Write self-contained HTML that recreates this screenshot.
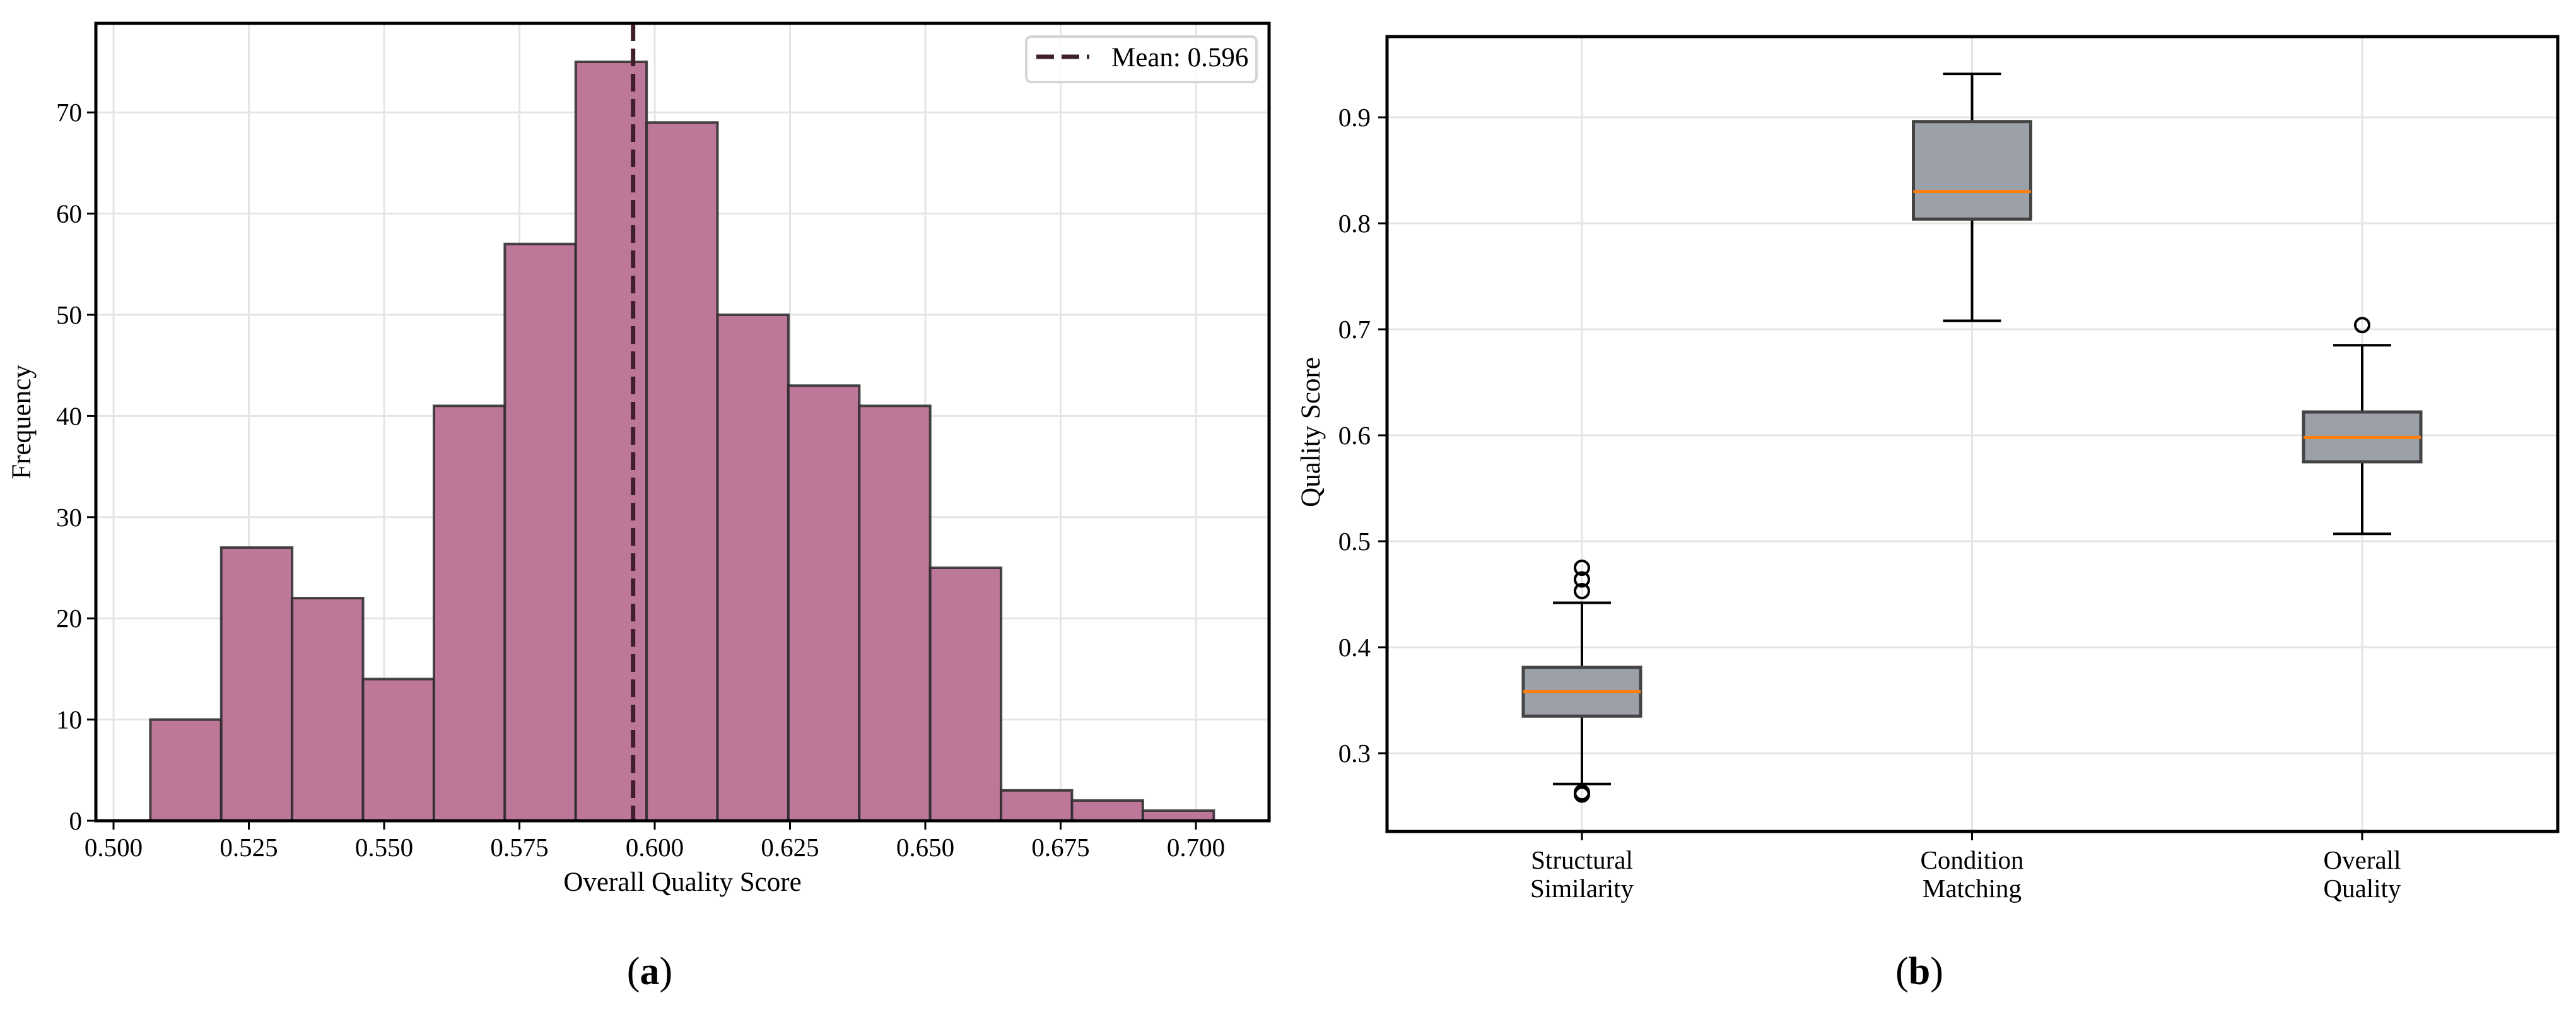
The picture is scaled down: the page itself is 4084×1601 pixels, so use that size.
<!DOCTYPE html>
<html><head><meta charset="utf-8">
<style>
html,body{margin:0;padding:0;background:#fff;}
svg{display:block;}
text{font-family:"Liberation Serif","DejaVu Serif",serif;fill:#000;}
</style></head>
<body>
<svg id="fig" width="4084" height="1601" viewBox="0 0 4084 1601" xmlns="http://www.w3.org/2000/svg">
<g id="histA"></g>
<g id="boxB"></g>
<text x="1030" y="1560" font-size="62" text-anchor="middle">(<tspan font-weight="bold">a</tspan>)</text>
<text x="3043" y="1560" font-size="62" text-anchor="middle">(<tspan font-weight="bold">b</tspan>)</text>
</svg>
<script>
const NS='http://www.w3.org/2000/svg';
// ---- Histogram data ----
const binStart=0.5068, binWidth=0.0131;
const counts=[10,27,22,14,41,57,75,69,50,43,41,25,3,2,1];
const meanValue=0.596;
const xTicksA=[0.500,0.525,0.550,0.575,0.600,0.625,0.650,0.675,0.700];
const yTicksA=[0,10,20,30,40,50,60,70];
// ---- Boxplot data ----
const categories=[["Structural","Similarity"],["Condition","Matching"],["Overall","Quality"]];
const q1s=[0.335,0.804,0.575];
const medians=[0.358,0.830,0.598];
const q3s=[0.381,0.896,0.622];
const whiskLo=[0.271,0.708,0.507];
const whiskHi=[0.442,0.941,0.685];
const outliers=[[0.475,0.464,0.453,0.263,0.261],[],[0.704]];
const yTicksB=[0.3,0.4,0.5,0.6,0.7,0.8,0.9];

function el(parent,tag,attrs){const e=document.createElementNS(NS,tag);for(const k in attrs)e.setAttribute(k,attrs[k]);parent.appendChild(e);return e;}

// ===== Panel A =====
const A=document.getElementById('histA');
const aL=152,aR=2012,aT=37,aB=1301;
const xA=v=>180+(v-0.5)*8580;
const yA=v=>aB-v*16.04;
yTicksA.forEach(t=>{const g=el(A,'line',{x1:aL,x2:aR,y1:yA(t),y2:yA(t),stroke:'#e5e5e5','stroke-width':3});

});
xTicksA.forEach(t=>{const g=el(A,'line',{x1:xA(t),x2:xA(t),y1:aT,y2:aB,stroke:'#e5e5e5','stroke-width':3});

});
counts.forEach((c,i)=>{const x0=xA(binStart+i*binWidth),x1=xA(binStart+(i+1)*binWidth);
const r=el(A,'rect',{x:x0,y:yA(c),width:x1-x0,height:aB-yA(c),fill:'#bd7799',stroke:'#2a2a2a','stroke-opacity':0.85,'stroke-width':4});

});
const ml=el(A,'line',{x1:xA(meanValue),x2:xA(meanValue),y1:aT,y2:aB,stroke:'#3f1f2c','stroke-width':7,'stroke-dasharray':'28,12'});


const fr=el(A,'rect',{x:aL,y:aT,width:aR-aL,height:aB-aT,fill:'none',stroke:'#000','stroke-width':5});


yTicksA.forEach(t=>{el(A,'line',{x1:aL-14,x2:aL,y1:yA(t),y2:yA(t),stroke:'#000','stroke-width':3});
const tx=el(A,'text',{x:aL-22,y:yA(t)+14,'font-size':41,'text-anchor':'end'});tx.textContent=t;

});
xTicksA.forEach(t=>{el(A,'line',{x1:xA(t),x2:xA(t),y1:aB,y2:aB+14,stroke:'#000','stroke-width':3});
const tx=el(A,'text',{x:xA(t),y:1357,'font-size':41,'text-anchor':'middle'});tx.textContent=t.toFixed(3);

});
let t1=el(A,'text',{x:1082,y:1412,'font-size':43,'text-anchor':'middle'});t1.textContent='Overall Quality Score';


let t2=el(A,'text',{x:0,y:0,'font-size':43,'text-anchor':'middle',transform:'translate(48,669) rotate(-90)'});t2.textContent='Frequency';


const lg=el(A,'g',{});


el(lg,'rect',{x:1627,y:58,width:365,height:72,rx:8,fill:'#fff','fill-opacity':0.85,stroke:'#d5d5d5','stroke-width':4});
el(lg,'line',{x1:1643,x2:1727,y1:90,y2:90,stroke:'#3f1f2c','stroke-width':7,'stroke-dasharray':'28,12'});
let lt=el(lg,'text',{x:1762,y:105,'font-size':43});lt.textContent='Mean: 0.596';



// ===== Panel B =====
const B=document.getElementById('boxB');
const bL=2199,bR=4055,bT=58,bB=1318;
const yB=v=>186-(v-0.9)*1680;
const xB=i=>2508+i*618.5;
const bw=186;
yTicksB.forEach(t=>{const g=el(B,'line',{x1:bL,x2:bR,y1:yB(t),y2:yB(t),stroke:'#e5e5e5','stroke-width':3});

});
categories.forEach((c,i)=>{const g=el(B,'line',{x1:xB(i),x2:xB(i),y1:bT,y2:bB,stroke:'#e5e5e5','stroke-width':3});

});
categories.forEach((c,i)=>{const cx=xB(i);
const g=el(B,'g',{});


el(g,'line',{x1:cx,x2:cx,y1:yB(q1s[i]),y2:yB(whiskLo[i]),stroke:'#000','stroke-width':4});
el(g,'line',{x1:cx,x2:cx,y1:yB(q3s[i]),y2:yB(whiskHi[i]),stroke:'#000','stroke-width':4});
el(g,'line',{x1:cx-46,x2:cx+46,y1:yB(whiskLo[i]),y2:yB(whiskLo[i]),stroke:'#000','stroke-width':4});
el(g,'line',{x1:cx-46,x2:cx+46,y1:yB(whiskHi[i]),y2:yB(whiskHi[i]),stroke:'#000','stroke-width':4});
el(g,'rect',{x:cx-bw/2,y:yB(q3s[i]),width:bw,height:yB(q1s[i])-yB(q3s[i]),fill:'#9ca0a8',stroke:'#444','stroke-width':5});
el(g,'line',{x1:cx-bw/2,x2:cx+bw/2,y1:yB(medians[i]),y2:yB(medians[i]),stroke:'#ff7f0e','stroke-width':5});
outliers[i].forEach(o=>{const c2=el(g,'circle',{cx:cx,cy:yB(o),r:11,fill:'none',stroke:'#000','stroke-width':4});

});
el(B,'line',{x1:cx,x2:cx,y1:bB,y2:bB+14,stroke:'#000','stroke-width':3});
const tx=el(B,'text',{x:cx,y:1377,'font-size':41,'text-anchor':'middle'});


const s1=el(tx,'tspan',{x:cx,dy:0});s1.textContent=c[0];
const s2=el(tx,'tspan',{x:cx,dy:45});s2.textContent=c[1];
});
const fb=el(B,'rect',{x:bL,y:bT,width:bR-bL,height:bB-bT,fill:'none',stroke:'#000','stroke-width':5});


yTicksB.forEach(t=>{el(B,'line',{x1:bL-14,x2:bL,y1:yB(t),y2:yB(t),stroke:'#000','stroke-width':3});
const tx=el(B,'text',{x:bL-26,y:yB(t)+14,'font-size':41,'text-anchor':'end'});tx.textContent=t.toFixed(1);

});
let t3=el(B,'text',{x:0,y:0,'font-size':43,'text-anchor':'middle',transform:'translate(2092,685) rotate(-90)'});t3.textContent='Quality Score';


</script>
</body></html>
